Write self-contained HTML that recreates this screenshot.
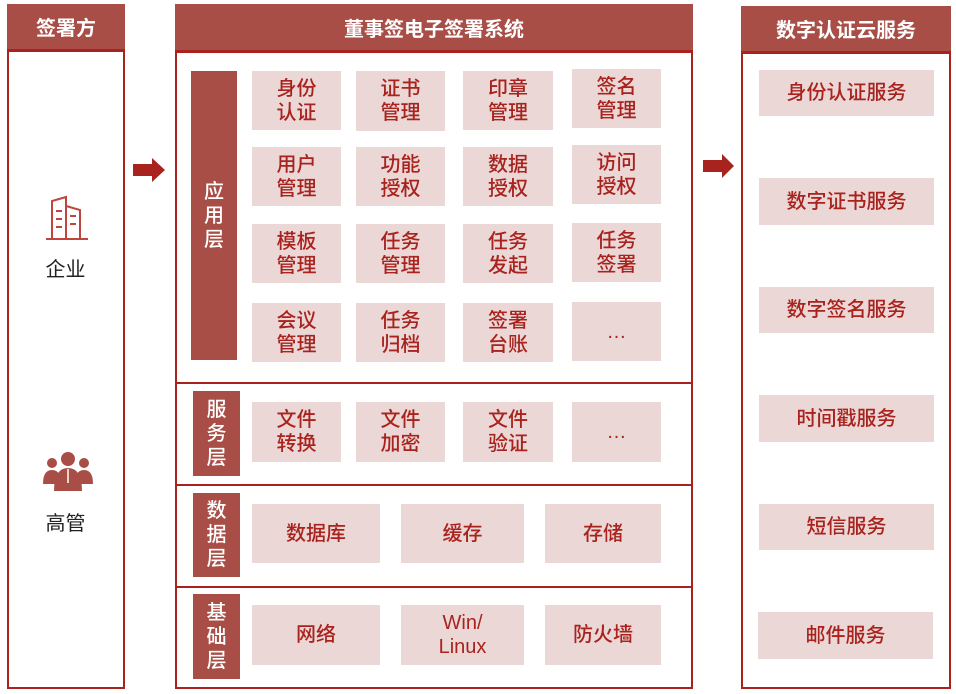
<!DOCTYPE html>
<html><head><meta charset="utf-8">
<style>
*{margin:0;padding:0;box-sizing:border-box}
body{width:956px;height:694px;background:#fff;position:relative;overflow:hidden;font-family:"Liberation Sans","Noto Sans CJK SC",sans-serif}
.a{position:absolute}
.panel{position:absolute;border:2px solid #a8231d;background:#fff}
.hd{position:absolute;background:#a84e47;color:#fff;font-size:20px;font-weight:bold;display:flex;align-items:center;justify-content:center;border-bottom:3px solid #a8231d}
.b{position:absolute;background:#ecd7d7;color:#a8231d;font-size:20px;font-weight:500;line-height:24px;display:flex;align-items:center;justify-content:center;text-align:center}
.lab{position:absolute;background:#a84e47;color:#fff;font-size:20px;line-height:24px;display:flex;align-items:center;justify-content:center;text-align:center;font-weight:500}
.ln{position:absolute;left:176px;width:516px;height:2px;background:#a8231d}
.t{position:absolute;color:#222;font-size:20px;width:117px;text-align:center}
</style></head><body>
<div class="panel" style="left:7px;top:4px;width:118px;height:685px"></div>
<div class="hd" style="left:7px;top:4px;width:118px;height:48px">签署方</div>
<svg class="a" style="left:44px;top:194px" width="46" height="46" viewBox="0 0 46 46">
<g fill="none" stroke="#c0453e" stroke-width="2">
<path d="M8 45 V7 L22 3 V45"/><path d="M22 12 L36 16 V45"/>
<path d="M2 45 H44"/><path d="M12 17 H18 M12 25 H18 M12 33 H18 M26 22 H32 M26 30 H32"/></g></svg>
<div class="t" style="left:7px;top:253px">企业</div>
<svg class="a" style="left:42px;top:451px" width="52" height="42" viewBox="0 0 52 42">
<g fill="#a84e47"><circle cx="10" cy="12" r="5"/><circle cx="42" cy="12" r="5"/><circle cx="26" cy="8" r="7"/>
<path d="M1 33 Q1 19 10 19 Q19 19 19 33Z"/><path d="M33 33 Q33 19 42 19 Q51 19 51 33Z"/>
<path d="M12 40 Q12 17 26 17 Q40 17 40 40Z"/></g>
<path d="M26 18 L26 32" stroke="#fff" stroke-width="1.5"/></svg>
<div class="t" style="left:7px;top:507px">高管</div>
<svg class="a" style="left:133px;top:157px" width="34" height="26"><path d="M0 7 H19 V1 L32 13 L19 25 V19 H0Z" fill="#a8231d"/></svg>
<svg class="a" style="left:703px;top:153px" width="34" height="26"><path d="M0 7 H19 V1 L31 13 L19 25 V19 H0Z" fill="#a8231d"/></svg>
<div class="panel" style="left:175px;top:4px;width:518px;height:685px"></div>
<div class="hd" style="left:175px;top:4px;width:518px;height:49px">董事签电子签署系统</div>
<div class="lab" style="left:191px;top:71px;width:46px;height:289px">应<br>用<br>层</div>
<div class="b" style="left:252px;top:71px;width:89px;height:59px">身份<br>认证</div>
<div class="b" style="left:356px;top:71px;width:89px;height:60px">证书<br>管理</div>
<div class="b" style="left:463px;top:71px;width:90px;height:59px">印章<br>管理</div>
<div class="b" style="left:572px;top:69px;width:89px;height:59px">签名<br>管理</div>
<div class="b" style="left:252px;top:147px;width:89px;height:59px">用户<br>管理</div>
<div class="b" style="left:356px;top:147px;width:89px;height:59px">功能<br>授权</div>
<div class="b" style="left:463px;top:147px;width:90px;height:59px">数据<br>授权</div>
<div class="b" style="left:572px;top:145px;width:89px;height:59px">访问<br>授权</div>
<div class="b" style="left:252px;top:224px;width:89px;height:59px">模板<br>管理</div>
<div class="b" style="left:356px;top:224px;width:89px;height:59px">任务<br>管理</div>
<div class="b" style="left:463px;top:224px;width:90px;height:59px">任务<br>发起</div>
<div class="b" style="left:572px;top:223px;width:89px;height:59px">任务<br>签署</div>
<div class="b" style="left:252px;top:303px;width:89px;height:59px">会议<br>管理</div>
<div class="b" style="left:356px;top:303px;width:89px;height:59px">任务<br>归档</div>
<div class="b" style="left:463px;top:303px;width:90px;height:59px">签署<br>台账</div>
<div class="b" style="left:572px;top:302px;width:89px;height:59px">…</div>
<div class="ln" style="top:382px"></div>
<div class="lab" style="left:193px;top:391px;width:47px;height:85px">服<br>务<br>层</div>
<div class="b" style="left:252px;top:402px;width:89px;height:60px">文件<br>转换</div>
<div class="b" style="left:356px;top:402px;width:89px;height:60px">文件<br>加密</div>
<div class="b" style="left:463px;top:402px;width:90px;height:60px">文件<br>验证</div>
<div class="b" style="left:572px;top:402px;width:89px;height:60px">…</div>
<div class="ln" style="top:484px"></div>
<div class="lab" style="left:193px;top:493px;width:47px;height:84px">数<br>据<br>层</div>
<div class="b" style="left:252px;top:504px;width:128px;height:59px">数据库</div>
<div class="b" style="left:401px;top:504px;width:123px;height:59px">缓存</div>
<div class="b" style="left:545px;top:504px;width:116px;height:59px">存储</div>
<div class="ln" style="top:586px"></div>
<div class="lab" style="left:193px;top:594px;width:47px;height:85px">基<br>础<br>层</div>
<div class="b" style="left:252px;top:605px;width:128px;height:60px">网络</div>
<div class="b" style="left:401px;top:605px;width:123px;height:60px">Win/<br>Linux</div>
<div class="b" style="left:545px;top:605px;width:116px;height:60px">防火墙</div>
<div class="panel" style="left:741px;top:6px;width:210px;height:683px"></div>
<div class="hd" style="left:741px;top:6px;width:210px;height:48px">数字认证云服务</div>
<div class="b" style="left:759px;top:70px;width:175px;height:46px">身份认证服务</div>
<div class="b" style="left:759px;top:178px;width:175px;height:47px">数字证书服务</div>
<div class="b" style="left:759px;top:287px;width:175px;height:46px">数字签名服务</div>
<div class="b" style="left:759px;top:395px;width:175px;height:47px">时间戳服务</div>
<div class="b" style="left:759px;top:504px;width:175px;height:46px">短信服务</div>
<div class="b" style="left:758px;top:612px;width:175px;height:47px">邮件服务</div>
</body></html>
